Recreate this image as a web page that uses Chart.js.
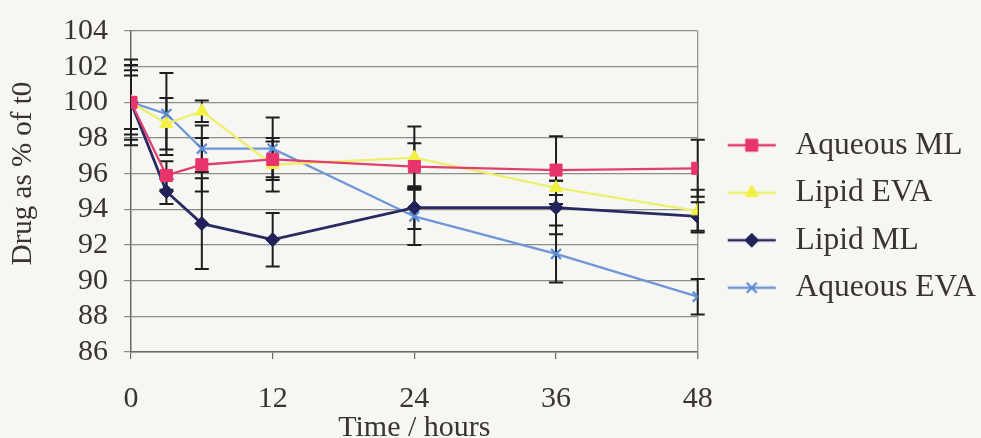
<!DOCTYPE html>
<html>
<head>
<meta charset="utf-8">
<script src="https://cdn.jsdelivr.net/npm/chart.js@4/dist/chart.umd.min.js"></script>
<style>
html,body{margin:0;padding:0;background:#f6f6f2;}
#wrap{width:981px;height:438px;position:relative;}
</style>
</head>
<body>
<div id="wrap"><canvas id="c" width="981" height="438"></canvas></div>
<script>
// ---- data ----
const timeHours = [0, 3, 6, 12, 24, 36, 48];
const seriesLabels = ['Aqueous ML', 'Lipid EVA', 'Lipid ML', 'Aqueous EVA'];
const aqueousML     = [100, 95.9, 96.5, 96.8, 96.4, 96.2, 96.3];
const aqueousMLErr  = [1.5, 0.8, 1.5, 1.0, 1.3, 1.9, 1.6];
const lipidEVA      = [100, 98.8, 99.5, 96.5, 96.9, 95.2, 93.9];
const lipidEVAErr   = [1.8, 1.45, 0.6, 1.5, 1.75, 0.4, 1.2];
const lipidML       = [100, 95.0, 93.2, 92.3, 94.1, 94.1, 93.6];
const lipidMLErr    = [2.1, 0.7, 2.55, 1.5, 1.2, 1.5, 0.8];
const aqueousEVA    = [100, 99.35, 97.4, 97.4, 93.6, 91.5, 89.1];
const aqueousEVAErr = [2.4, 2.3, 1.3, 1.75, 1.6, 1.6, 1.0];
const xTicks = [0, 12, 24, 36, 48];
const yMin = 86, yMax = 104, yStep = 2;
const xTitle = 'Time / hours';
const yTitle = 'Drug as % of t0';

const seriesValues = [aqueousML, lipidEVA, lipidML, aqueousEVA];
const seriesErrors = [aqueousMLErr, lipidEVAErr, lipidMLErr, aqueousEVAErr];

// ---- styles ----
const FONT = "'Liberation Serif', 'Times New Roman', serif";
const TEXT = '#3a3333';
const styles = [
  {line:'#e0406e', fill:'#e8336b', point:'rect', radius:8.5, bw:1},
  {line:'#eeee70', fill:'#f2f040', point:'triangle', radius:7.5, bw:1},
  {line:'#2a2a62', fill:'#22225a', point:'rectRot', radius:7, bw:1},
  {line:'#6f97d8', fill:'#5b8ad6', point:'crossRot', radius:7, bw:2.2}
];

function legendGlyph(s){
  const cv = document.createElement('canvas');
  cv.width = 66; cv.height = 22;
  const g = cv.getContext('2d');
  g.strokeStyle = s.line; g.lineWidth = 2.5;
  g.beginPath(); g.moveTo(14, 11); g.lineTo(62, 11); g.stroke();
  g.fillStyle = s.fill; g.strokeStyle = s.fill; g.lineWidth = s.bw;
  Chart.helpers.drawPoint(g, {pointStyle: s.point, radius: s.radius, rotation: 0, borderWidth: s.bw}, 38, 11);
  return cv;
}

const datasets = seriesLabels.map((lab, i) => ({
  label: lab,
  data: timeHours.map((t, j) => ({x: t, y: seriesValues[i][j]})),
  borderColor: styles[i].line,
  backgroundColor: styles[i].fill,
  pointBackgroundColor: styles[i].fill,
  pointBorderColor: styles[i].fill,
  pointStyle: styles[i].point,
  pointRadius: styles[i].radius,
  pointBorderWidth: styles[i].bw,
  borderWidth: i === 2 ? 2.8 : 2.3,
  tension: 0,
  fill: false
}));

const errorBars = {
  id: 'errorBars',
  beforeDatasetsDraw(chart){
    const {ctx, scales:{x, y}} = chart;
    ctx.save();
    ctx.strokeStyle = '#1e1e1e';
    ctx.lineWidth = 2;
    seriesValues.forEach((vals, i) => {
      vals.forEach((v, j) => {
        const e = seriesErrors[i][j];
        const px = x.getPixelForValue(timeHours[j]);
        const hi = y.getPixelForValue(v + e);
        const lo = y.getPixelForValue(v - e);
        ctx.beginPath();
        ctx.moveTo(px, hi); ctx.lineTo(px, lo);
        ctx.moveTo(px - 7, hi); ctx.lineTo(px + 7, hi);
        ctx.moveTo(px - 7, lo); ctx.lineTo(px + 7, lo);
        ctx.stroke();
      });
    });
    ctx.restore();
  }
};

const frame = {
  id: 'frame',
  beforeDatasetsDraw(chart){
    const {ctx, chartArea:a} = chart;
    ctx.save();
    ctx.strokeStyle = '#8c8c8c';
    ctx.lineWidth = 1.2;
    ctx.beginPath();
    ctx.moveTo(a.right, a.top); ctx.lineTo(a.right, a.bottom + 7);
    ctx.stroke();
    ctx.restore();
  }
};

const yTitlePlugin = {
  id: 'yTitlePlugin',
  afterDraw(chart){
    const {ctx, chartArea:a} = chart;
    ctx.save();
    ctx.translate(23, (a.top + a.bottom) / 2 - 18);
    ctx.rotate(-Math.PI / 2);
    ctx.fillStyle = TEXT;
    ctx.font = "29px " + FONT;
    ctx.textAlign = 'center';
    ctx.textBaseline = 'middle';
    ctx.fillText(yTitle, 0, 0);
    ctx.restore();
  }
};

const bg = {
  id: 'bg',
  beforeDraw(chart){
    const ctx = chart.ctx;
    ctx.save(); ctx.fillStyle = '#f6f6f2'; ctx.fillRect(0, 0, chart.width, chart.height); ctx.restore();
  }
};

new Chart(document.getElementById('c'), {
  type: 'line',
  data: {datasets},
  plugins: [bg, frame, errorBars, yTitlePlugin],
  options: {
    responsive: false,
    animation: false,
    layout: {padding: {left: 0, top: 30, right: -5, bottom: 0}},
    plugins: {
      tooltip: {enabled: false},
      legend: {
        position: 'right',
        fullSize: false,
        align: 'center',
        maxWidth: 400,
        title: {display: true, text: '', font: {size: 10, lineHeight: 1}, padding: {top: 20, bottom: 20}},
        labels: {
          usePointStyle: true,
          pointStyleWidth: 66,
          padding: 16,
          color: TEXT,
          font: {family: FONT, size: 31.5, lineHeight: 1},
          generateLabels(chart){
            return chart.data.datasets.map((ds, i) => ({
              text: ds.label,
              pointStyle: legendGlyph(styles[i]),
              fillStyle: 'transparent',
              strokeStyle: 'transparent',
              lineWidth: 0,
              hidden: false,
              datasetIndex: i,
              fontColor: TEXT
            }));
          }
        }
      }
    },
    scales: {
      x: {
        type: 'linear',
        min: 0, max: 48,
        afterBuildTicks(s){ s.ticks = xTicks.map(v => ({value: v})); },
        afterFit(s){ s.height = 86; },
        grid: {display: true, drawOnChartArea: false, drawTicks: true, tickLength: 7, color: '#6a6a6a', lineWidth: 1.2},
        border: {display: true, color: '#6a6a6a', width: 1.5},
        ticks: {color: TEXT, padding: 25, font: {family: FONT, size: 30, lineHeight: 1}},
        title: {display: true, text: xTitle, color: TEXT, font: {family: FONT, size: 30, lineHeight: 1}, padding: {top: 0, bottom: -5}}
      },
      y: {
        type: 'linear',
        min: yMin, max: yMax,
        afterFit(s){ s.width = 131; },
        ticks: {stepSize: yStep, color: TEXT, padding: 16, font: {family: FONT, size: 30, lineHeight: 1}},
        grid: {color: '#8c8c8c', lineWidth: 1.2, tickLength: 7, drawTicks: true},
        border: {display: true, color: '#6a6a6a', width: 1.5},
        title: {display: false}
      }
    }
  }
});
</script>
</body>
</html>
